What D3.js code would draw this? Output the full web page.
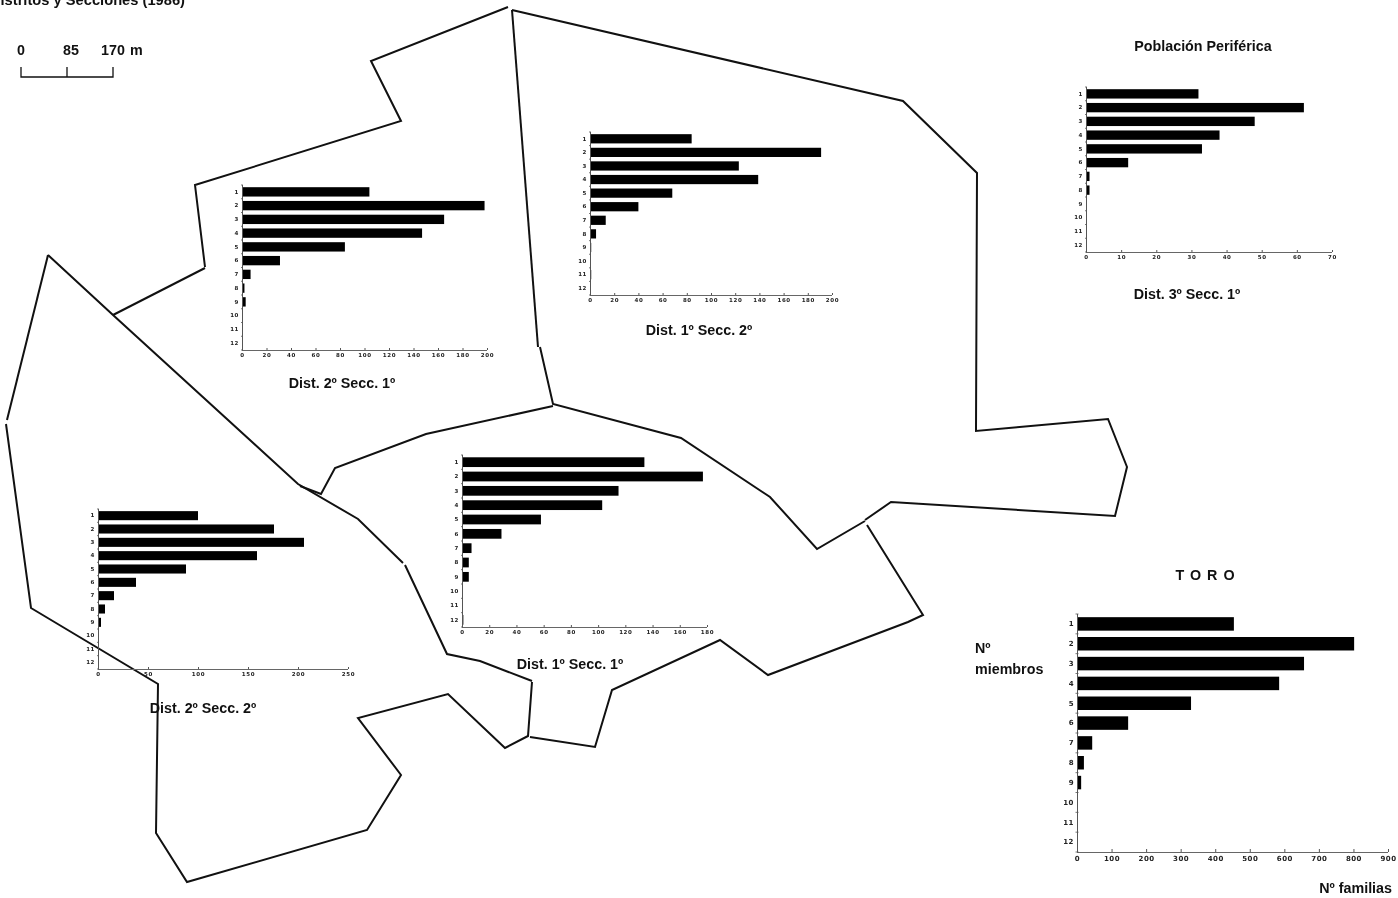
<!DOCTYPE html>
<html><head><meta charset="utf-8">
<script src="https://cdn.jsdelivr.net/npm/d3@7/dist/d3.min.js"></script>
<style>
html,body{margin:0;padding:0;background:#fff}
svg{display:block;filter:blur(0.45px)}
text{font-family:"Liberation Sans",Arial,sans-serif;fill:#111}
.lab{font-weight:700;font-size:14.3px}
.tick text{font-family:"DejaVu Sans",sans-serif;font-weight:700;fill:#222}
</style></head><body>
<svg id="c" width="1398" height="898"></svg>
<script>
const members = ["1","2","3","4","5","6","7","8","9","10","11","12"];
const d1s1 = [134,177,115,103,58,29,7,5,5,0,0,1];
const d1s2 = [84,191,123,139,68,40,13,5,1,0,1,0];
const d2s1 = [104,198,165,147,84,31,7,2,3,0,0,0];
const d2s2 = [100,176,206,159,88,38,16,7,3,0,0,0];
const d3s1 = [32,62,48,38,33,12,1,1,0,0,0,0];
const toro = [454,802,657,585,330,148,44,20,12,0,2,0];
const ticks200 = [0,20,40,60,80,100,120,140,160,180,200];
const ticks180 = [0,20,40,60,80,100,120,140,160,180];
const ticks250 = [0,50,100,150,200,250];
const ticks70 = [0,10,20,30,40,50,60,70];
const ticks900 = [0,100,200,300,400,500,600,700,800,900];
const outlineA = [[508,7],[371,61],[401,121],[195,185],[205,267]];
const outlineB = [[205,268],[113,315]];
const outlineC = [[512,10],[538,347]];
const outlineD = [[540,347],[553,404],[681,438],[770,497],[817,549],[865,521]];
const outlineE = [[512,10],[903,101],[977,173],[976,431],[1108,419],[1127,467],[1115,516],[891,502],[865,520]];
const outlineF = [[867,525],[923,615],[908,622],[768,675],[720,640],[612,690],[595,747],[530,737]];
const outlineF2 = [[532,681],[480,661],[447,654],[405,565]];
const outlineG = [[553,406],[426,434],[335,468],[321,494],[300,486]];
const outlineH = [[48,255],[113,315],[298,484],[358,519],[403,563]];
const outlineI = [[48,255],[7,420]];
const outlineJ = [[6,424],[31,608],[158,684],[156,833],[187,882],[367,830],[401,775],[358,718],[448,694],[505,748],[528,736],[532,682]];
const outlines = [outlineA,outlineB,outlineC,outlineD,outlineE,outlineF,outlineF2,outlineG,outlineH,outlineI,outlineJ];
const scaleTicks = [0,85,170];

const svg = d3.select("#c");
const map = svg.append("g");
const lineGen = d3.line();
map.selectAll("path").data(outlines).join("path")
  .attr("d", lineGen).attr("fill","none").attr("stroke","#111").attr("stroke-width",2);

function chart(o){
  const x = d3.scaleLinear().domain([0,o.max]).range([o.x0,o.x1]);
  const y = d3.scaleBand().domain(members).range([o.top,o.bot]).padding(0);
  const pad = o.pad;
  const g = svg.append("g");
  g.selectAll("rect").data(o.values).join("rect")
    .attr("x",x(0))
    .attr("y",(d,i)=>y(members[i])+y.bandwidth()*pad)
    .attr("width",d=>x(d)-x(0))
    .attr("height",y.bandwidth()*(1-2*pad))
    .attr("fill","#000");
  const ax = g.append("g").attr("transform",`translate(0,${o.bot})`)
    .call(d3.axisBottom(x).tickValues(o.ticks).tickSize(o.tk).tickPadding(1).tickFormat(d3.format("d")));
  ax.selectAll("line").attr("stroke","#555").attr("transform",`translate(0,${-o.tk})`);
  ax.select(".domain").attr("stroke","#666").attr("d",`M${o.x0},0.5H${o.x1}`);
  ax.selectAll("text").attr("font-size",o.fs).attr("letter-spacing",o.ls);
  const ay = g.append("g").attr("transform",`translate(${o.x0},0)`)
    .call(d3.axisLeft(y).tickSize(0).tickPadding(o.lp));
  ay.select(".domain").attr("stroke","#555").attr("d",`M0.5,${o.top}V${o.bot}`);
  ay.selectAll("text").attr("font-size",o.fs).attr("letter-spacing",o.ls);
  g.selectAll("line.b").data(d3.range(0,13)).join("line").attr("class","b")
    .attr("x1",o.x0-o.tk/2).attr("x2",o.x0+o.tk/2)
    .attr("y1",i=>o.top+i*y.step()).attr("y2",i=>o.top+i*y.step())
    .attr("stroke","#555").attr("stroke-width",0.8);
}
const small = {pad:0.16,tk:2,fs:5.5,ls:0.6,lp:3};
chart({...small,values:d3s1,max:70,ticks:ticks70,x0:1086,x1:1332,top:87,bot:252});
chart({...small,values:d1s2,max:200,ticks:ticks200,x0:590,x1:832,top:132,bot:295});
chart({...small,values:d2s1,max:200,ticks:ticks200,x0:242,x1:487,top:185,bot:350});
chart({...small,values:d1s1,max:180,ticks:ticks180,x0:462,x1:707,top:455,bot:627});
chart({...small,values:d2s2,max:250,ticks:ticks250,x0:98,x1:348,top:509,bot:669});
chart({pad:0.16,tk:3,fs:7,ls:0.5,lp:3,values:toro,max:900,ticks:ticks900,x0:1077,x1:1388,top:614,bot:852});

const labels = [
 ["Población Periférica",1203,51,"middle"],
 ["Dist. 3º Secc. 1º",1187,299,"middle"],
 ["Dist. 1º Secc. 2º",699,335,"middle"],
 ["Dist. 2º Secc. 1º",342,388,"middle"],
 ["Dist. 1º Secc. 1º",570,669,"middle"],
 ["Dist. 2º Secc. 2º",203,713,"middle"],
 ["Nº",975,653,"start"],
 ["miembros",975,674,"start"],
 ["Nº familias",1392,893,"end"]
];
svg.append("g").selectAll("text").data(labels).join("text").attr("class","lab")
  .attr("x",d=>d[1]).attr("y",d=>d[2]).attr("text-anchor",d=>d[3]).text(d=>d[0]);
svg.append("text").attr("class","lab").attr("x",185).attr("y",5).attr("text-anchor","end")
  .style("font-size","14.7px").text("Distritos y Secciones (1986)");
svg.append("text").attr("class","lab").attr("x",1208).attr("y",580).attr("text-anchor","middle")
  .attr("letter-spacing",6).text("TORO");

const sx = d3.scaleLinear().domain([0,170]).range([21,113]);
const sb = svg.append("g");
sb.append("path").attr("fill","none").attr("stroke","#111").attr("stroke-width",1.3)
  .attr("d",`M${sx(0)},67V77H${sx(170)}V67M${sx(85)},67V77`);
sb.selectAll("text").data(scaleTicks).join("text").attr("class","lab")
  .attr("x",d=>sx(d)+(d===85?4:0)).attr("y",55).attr("text-anchor","middle")
  .text(d=>d);
sb.append("text").attr("class","lab").attr("x",130).attr("y",55).attr("text-anchor","start").text("m");
</script>
</body></html>
